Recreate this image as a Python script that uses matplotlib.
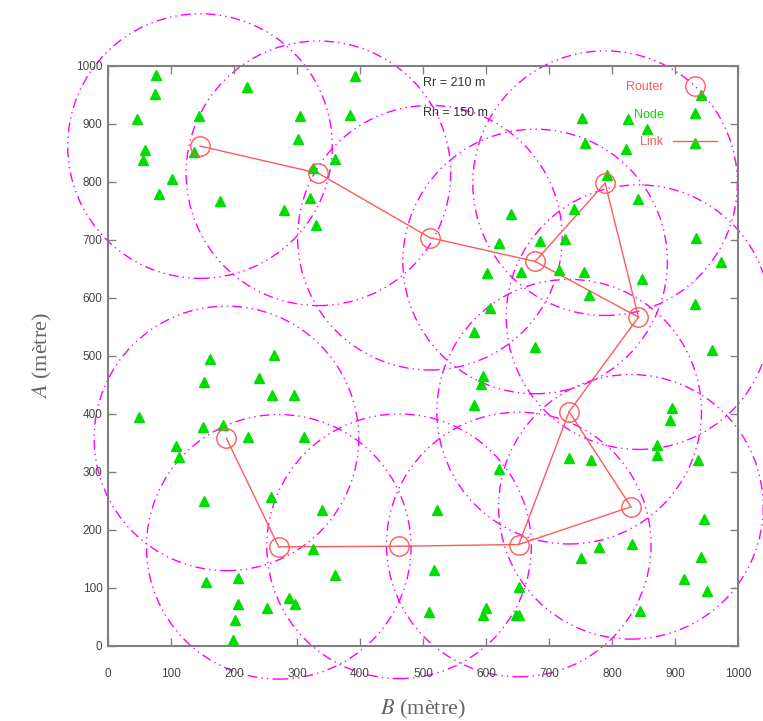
import matplotlib
matplotlib.use('Agg')
import matplotlib.pyplot as plt
from matplotlib.patches import Ellipse

# routeurs (m)
router_x = [146, 334, 511, 678, 789, 842, 732, 830, 652, 462, 271, 188]
router_y = [862, 815, 704, 663, 798, 567, 404, 240, 175, 172, 171, 358]
links = [(0, 1), (1, 2), (2, 3), (3, 4), (4, 5), (3, 5), (5, 6),
         (6, 8), (6, 7), (7, 8), (8, 9), (9, 10), (10, 11)]

# noeuds (m)
node_x = [76, 74, 46, 145, 221, 305, 392, 384, 301, 59, 56, 137, 102, 81, 177, 280, 321, 326, 360, 330,
          162, 263, 153, 239, 260, 295, 49, 150, 182, 223, 311, 108, 112, 152, 258, 339, 325, 360, 155,
          206, 206, 253, 288, 297, 201, 198,
          941, 932, 752, 826, 856, 757, 823, 792, 841, 639, 739, 620, 686, 726, 934, 973, 602, 655, 716,
          756, 848, 763, 606, 932, 581, 678, 959,
          596, 592, 581, 896, 892, 871, 871, 937, 731, 766, 621, 522, 946, 780, 832, 751, 941, 915, 951,
          517, 652, 510, 600, 596, 647, 653, 844]
node_y = [984, 952, 908, 913, 964, 914, 982, 916, 875, 856, 838, 852, 805, 779, 767, 752, 772, 825, 839, 726,
          495, 501, 456, 462, 433, 433, 394, 378, 381, 360, 360, 345, 326, 250, 257, 235, 167, 122, 110,
          118, 73, 66, 83, 72, 44, 10,
          950, 868, 911, 909, 891, 868, 857, 812, 771, 745, 754, 695, 699, 702, 703, 662, 643, 645, 648,
          644, 632, 605, 582, 590, 541, 515, 511,
          466, 452, 416, 410, 390, 346, 330, 320, 325, 320, 306, 235, 219, 170, 176, 151, 154, 116, 95,
          131, 101, 59, 65, 54, 54, 54, 60]

RR = 210  # portée routeur
RN = 150  # portée noeud

RED = '#ff5a5a'
GREEN = '#00dd00'
MAG = '#ff00ff'

plt.rcParams['mathtext.fontset'] = 'stix'

fig = plt.figure(figsize=(7.63, 7.21), dpi=100)
ax = fig.add_axes([108 / 763, 75 / 721, 630 / 763, 580 / 721])
ax.set_xlim(0, 1000)
ax.set_ylim(0, 1000)

# cercles de portée : ronds à l'écran, donc on corrige l'échelle y
wpx = 630 / 1000
hpx = 580 / 1000
for x, y in zip(router_x, router_y):
    ax.add_patch(Ellipse((x, y), 2 * RR, 2 * RR * wpx / hpx, fill=False, ec=MAG, lw=1.0,
                         ls=(0, (7, 3, 1, 3, 1, 3)), clip_on=False, zorder=1))

for k, (a, b) in enumerate(links):
    ax.plot([router_x[a], router_x[b]], [router_y[a], router_y[b]], color=RED, lw=1.0,
            zorder=3, label='Link' if k == 0 else None)

hn, = ax.plot(node_x, node_y, ls='none', marker='^', ms=7.5, color=GREEN, mec=GREEN,
              zorder=4, label='Node')
hr, = ax.plot(router_x, router_y, ls='none', marker='o', ms=14, mfc='none', mec=RED,
              mew=1.0, zorder=5, label='Router')
hl = ax.get_lines()[0]

ax.legend([hr, hn, hl], ['Router', 'Node', 'Link'], markerfirst=False, frameon=False,
          loc='upper right', bbox_to_anchor=(0.967, 0.974), borderaxespad=0, borderpad=0,
          handlelength=3.5, labelspacing=1.25, handletextpad=0.8,
          labelcolor=[RED, GREEN, RED], prop={'family': 'Liberation Sans', 'size': 9})

ax.text(500, 970, 'Rr = 210 m', fontsize=9, family='Liberation Sans', color='#333333', va='center')
ax.text(500, 919, 'Rn = 150 m', fontsize=9, family='Liberation Sans', color='#333333', va='center')

ticks = list(range(0, 1001, 100))
ax.set_xticks(ticks)
ax.set_yticks(ticks)
ax.tick_params(direction='in', length=6, width=1, color='#808080', top=True, right=True,
               labelsize=8.5, labelcolor='#444444')
ax.tick_params(axis='x', pad=16)
ax.tick_params(axis='y', pad=4)
for lab in ax.get_xticklabels() + ax.get_yticklabels():
    lab.set_family('Liberation Sans')
for s in ax.spines.values():
    s.set_color('#808080')
    s.set_linewidth(1.5)

ax.set_xlabel('$B$ (mètre)', fontsize=16, family='Liberation Serif', color='#666666')
ax.set_ylabel('$A$ (mètre)', fontsize=16, family='Liberation Serif', color='#666666')
ax.xaxis.set_label_coords(0.5, -0.09)
ax.yaxis.set_label_coords(-0.085, 0.5)

plt.savefig('out.png', dpi=100)
plt.close()
